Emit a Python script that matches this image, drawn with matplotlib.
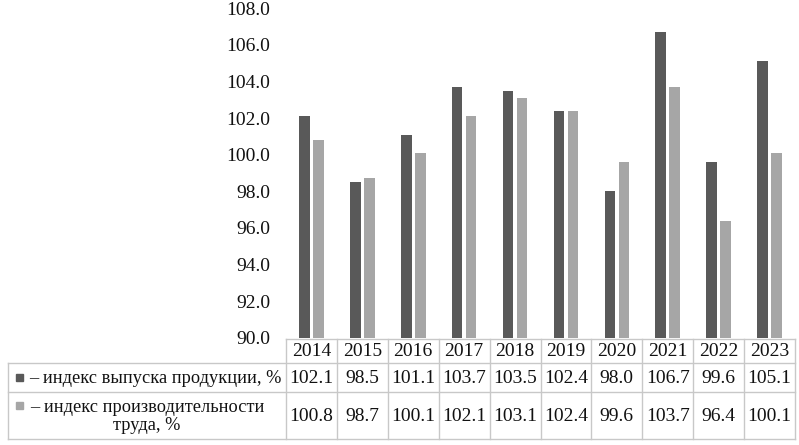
import matplotlib
matplotlib.use("Agg")
import matplotlib.pyplot as plt
from matplotlib.patches import Rectangle
import numpy as np

years = ["2014", "2015", "2016", "2017", "2018", "2019", "2020", "2021", "2022", "2023"]
output_index = [102.1, 98.5, 101.1, 103.7, 103.5, 102.4, 98.0, 106.7, 99.6, 105.1]
productivity_index = [100.8, 98.7, 100.1, 102.1, 103.1, 102.4, 99.6, 103.7, 96.4, 100.1]
series_labels = ["– индекс выпуска продукции, %", "– индекс производительности\nтруда, %"]
yticks = [90, 92, 94, 96, 98, 100, 102, 104, 106, 108]

DARK = "#595959"
LIGHT = "#a6a6a6"
GRID = "#c8c8c8"
FONT = "Liberation Serif"
FS = 14
FS_LEG = 13.2

W, H = 799, 445
fig = plt.figure(figsize=(W / 100, H / 100), dpi=100)

# plot area in pixels
L, R, T, B = 286, 795, 8, 338
ax = fig.add_axes([L / W, 1 - B / H, (R - L) / W, (B - T) / H])
x = np.arange(len(years))
bw = 0.208
off = 0.137
ax.bar(x - off, np.array(output_index) - 90, bottom=90, width=bw, color=DARK)
ax.bar(x + off, np.array(productivity_index) - 90, bottom=90, width=bw, color=LIGHT)
ax.set_xlim(-0.5, len(years) - 0.5)
ax.set_ylim(90, 108)
ax.set_yticks(yticks)
ax.set_yticklabels([f"{v:.1f}" for v in yticks], fontfamily=FONT, fontsize=FS, color="#111111")
ax.tick_params(axis="y", length=0, pad=11.5)
ax.set_xticks([])
for s in ax.spines.values():
    s.set_visible(False)

# table overlay in pixel coordinates
tab = fig.add_axes([0, 0, 1, 1])
tab.set_xlim(0, W)
tab.set_ylim(H, 0)
tab.axis("off")
tab.patch.set_alpha(0)

ncol = len(years)
colw = (R - L) / ncol
col_edges = [L + i * colw for i in range(ncol + 1)]
y0, y1, y2, y3 = 339, 363, 392, 439
TL = 8
lw = 1.0
# horizontal lines
tab.plot([L, R], [y0, y0], color=GRID, lw=lw)
for yy in (y1, y2, y3):
    tab.plot([TL, R], [yy, yy], color=GRID, lw=lw)
# vertical lines
tab.plot([TL, TL], [y1, y3], color=GRID, lw=lw)
for xe in col_edges:
    tab.plot([xe, xe], [y0, y3], color=GRID, lw=lw)

txt = dict(fontfamily=FONT, fontsize=FS, ha="center", va="center", color="#111111")
for i, yr in enumerate(years):
    cx = (col_edges[i] + col_edges[i + 1]) / 2
    tab.text(cx, (y0 + y1) / 2 + 1, yr, **txt)
    tab.text(cx, (y1 + y2) / 2 + 1, f"{output_index[i]:.1f}", **txt)
    tab.text(cx, (y2 + y3) / 2 + 1, f"{productivity_index[i]:.1f}", **txt)

# legend keys
tab.add_patch(Rectangle((16, (y1 + y2) / 2 - 3.5), 7, 7, color=DARK))
tab.add_patch(Rectangle((16, 405 - 3.5), 7, 7, color=LIGHT))
tab.text(29, (y1 + y2) / 2 + 1, series_labels[0], fontfamily=FONT, fontsize=FS_LEG,
         ha="left", va="center", color="#111111")
tab.text(147, (y2 + y3) / 2 + 1, series_labels[1], fontfamily=FONT, fontsize=FS_LEG,
         ha="center", va="center", color="#111111", linespacing=1.15)

fig.savefig("out.png", dpi=100)
